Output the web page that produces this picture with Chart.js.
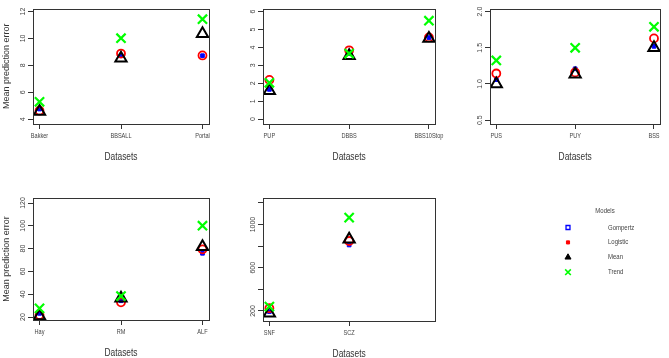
<!DOCTYPE html>
<html>
<head>
<meta charset="utf-8">
<script src="https://cdn.jsdelivr.net/npm/chart.js@4.4.1/dist/chart.umd.min.js"></script>
<style>
  html, body { margin: 0; padding: 0; background: #fff; overflow: hidden; }
  #wrap { position: relative; width: 669px; height: 358px; }
  canvas { position: absolute; }
</style>
</head>
<body>
<div id="wrap">
  <canvas id="p1"></canvas>
  <canvas id="p2"></canvas>
  <canvas id="p3"></canvas>
  <canvas id="p4"></canvas>
  <canvas id="p5"></canvas>
  <canvas id="legend"></canvas>
</div>
<script>
// model names (legend order)
const models = ["Gompertz", "Logistic", "Mean", "Trend"];

// panel 1
const cats1 = ["Bakker", "BBSALL", "Portal"];
const gompertz1 = [4.76, 8.72, 8.72];
const logistic1 = [4.64, 8.88, 8.74];
const mean1 = [4.57, 8.53, 10.35];
const trend1 = [5.30, 10.02, 11.43];
const yTicks1 = [4, 6, 8, 10, 12];

// panel 2
const cats2 = ["PUP", "DBBS", "BBS10Stop"];
const gompertz2 = [1.66, 3.66, 4.55];
const logistic2 = [2.19, 3.84, 4.56];
const mean2 = [1.58, 3.54, 4.50];
const trend2 = [2.03, 3.66, 5.49];
const yTicks2 = [0, 1, 2, 3, 4, 5, 6];

// panel 3
const cats3 = ["PUS", "PUY", "BSS"];
const gompertz3 = [1.06, 1.21, 1.52];
const logistic3 = [1.145, 1.16, 1.63];
const mean3 = [1.0, 1.135, 1.50];
const trend3 = [1.325, 1.50, 1.79];
const yTicks3 = [0.5, 1.0, 1.5, 2.0];

// panel 4
const cats4 = ["Hay", "RM", "ALF"];
const gompertz4 = [23.2, 34.3, 75.9];
const logistic4 = [21.8, 32.9, 79.4];
const mean4 = [20.9, 36.4, 81.7];
const trend4 = [27.6, 38.4, 100.1];
const yTicks4 = [20, 40, 60, 80, 100, 120];

// panel 5
const cats5 = ["SNF", "SCZ"];
const gompertz5 = [194, 811];
const logistic5 = [225, 848];
const mean5 = [179, 864];
const trend5 = [240, 1064];
const yTicks5 = [200, 400, 600, 800, 1000, 1200];
const yLabels5 = [200, 600, 1000];

const styles = {
  Gompertz: { pointStyle: "rect", radius: 2.6, borderColor: "#0000ff", backgroundColor: "#0000ff", borderWidth: 1, order: 4 },
  Logistic: { pointStyle: "circle", radius: 4, borderColor: "#ff0000", backgroundColor: "rgba(0,0,0,0)", borderWidth: 1.8, order: 3 },
  Mean: { pointStyle: "triangle", radius: 6.5, borderColor: "#000000", backgroundColor: "rgba(0,0,0,0)", borderWidth: 2, order: 2 },
  Trend: { pointStyle: "crossRot", radius: 6.5, borderColor: "#00ff00", backgroundColor: "#00ff00", borderWidth: 2.2, order: 1 }
};

const axisColor = "#333";
const textColor = "#444";

// squeezed text, the source image is a bit narrower than tall
function squeezed(ctx, text, x, y, font, sx) {
  ctx.save();
  ctx.font = font;
  ctx.translate(x, y);
  ctx.scale(sx, 1);
  ctx.fillText(text, 0, 0);
  ctx.restore();
}

// frame box, rotated y tick labels, x labels + title (R style)
const framePlugin = {
  id: "frame",
  afterDraw(chart, args, opts) {
    const { ctx, chartArea: a } = chart;
    const ys = chart.scales.y;
    const xs = chart.scales.x;
    ctx.save();
    ctx.strokeStyle = axisColor;
    ctx.lineWidth = 1;
    ctx.strokeRect(Math.round(a.left) + 0.5, Math.round(a.top) + 0.5,
      Math.round(a.right - a.left), Math.round(a.bottom - a.top));
    ctx.fillStyle = textColor;
    ctx.textAlign = "center";
    ctx.textBaseline = "middle";
    ctx.font = '7px "Liberation Sans"';
    opts.labels.forEach(v => {
      const y = ys.getPixelForValue(v);
      ctx.save();
      ctx.translate(a.left - 10, y);
      ctx.rotate(-Math.PI / 2);
      ctx.fillText(opts.fmt(v), 0, 0);
      ctx.restore();
    });
    opts.cats.forEach((c, i) => {
      squeezed(ctx, c, xs.getPixelForValue(i + 1), a.bottom + 12, '7px "Liberation Sans"', 0.8);
    });
    ctx.fillStyle = "#333";
    squeezed(ctx, "Datasets", (a.left + a.right) / 2, a.bottom + 33, '10.5px "Liberation Sans"', 0.8);
    ctx.restore();
  }
};

function makePanel(id, box, cats, series, yTicks, yLabels, yMin, yMax, fmt, showTitle) {
  const cv = document.getElementById(id);
  cv.width = box.w; cv.height = box.h;
  cv.style.left = box.x + "px"; cv.style.top = box.y + "px";
  cv.style.width = box.w + "px"; cv.style.height = box.h + "px";

  const datasets = models.map((m, k) => Object.assign({
    label: m,
    data: series[k].map((v, i) => ({ x: i + 1, y: v })),
    showLine: false
  }, styles[m]));

  return new Chart(cv.getContext("2d"), {
    type: "scatter",
    data: { datasets: datasets },
    options: {
      responsive: false,
      animation: false,
      events: [],
      layout: { padding: { top: box.padTop, right: box.padRight, left: 0, bottom: 0 } },
      plugins: {
        legend: { display: false },
        tooltip: { enabled: false },
        frame: { labels: yLabels, fmt: fmt, cats: cats }
      },
      scales: {
        x: {
          type: "linear",
          min: 0.92,
          max: 3.08,
          afterBuildTicks: s => { s.ticks = cats.map((c, i) => ({ value: i + 1 })); },
          afterFit: s => { s.height = 40; },
          ticks: { display: false },
          grid: { drawOnChartArea: false, drawTicks: true, tickLength: 5, color: axisColor },
          border: { display: false }
        },
        y: {
          type: "linear",
          min: yMin,
          max: yMax,
          afterBuildTicks: s => { s.ticks = yTicks.map(v => ({ value: v })); },
          afterFit: s => { s.width = box.yw; },
          ticks: { display: false },
          grid: { drawOnChartArea: false, drawTicks: true, tickLength: 5, color: axisColor },
          border: { display: false },
          title: {
            display: showTitle, text: "Mean prediction error", color: "#333",
            padding: { top: 1, bottom: 0 },
            font: { family: '"Liberation Sans"', size: 9 }
          }
        }
      }
    },
    plugins: [framePlugin]
  });
}

const num = v => String(v);
const one = v => v.toFixed(1);

makePanel("p1", { x: 0, y: 0, w: 222, h: 164, yw: 33, padTop: 3, padRight: 13 },
  cats1, [gompertz1, logistic1, mean1, trend1], yTicks1, yTicks1, 3.65, 12.21, num, true);
makePanel("p2", { x: 222, y: 0, w: 222, h: 164, yw: 41, padTop: 3, padRight: 6 },
  cats2, [gompertz2, logistic2, mean2, trend2], yTicks2, yTicks2, -0.27, 6.16, num, false);
makePanel("p3", { x: 446, y: 0, w: 223, h: 164, yw: 44, padTop: 3, padRight: 2 },
  cats3, [gompertz3, logistic3, mean3, trend3], yTicks3, yTicks3, 0.447, 2.04, one, false);
makePanel("p4", { x: 0, y: 180, w: 222, h: 180, yw: 33, padTop: 18, padRight: 13 },
  cats4, [gompertz4, logistic4, mean4, trend4], yTicks4, yTicks4, 17.4, 124.4, num, true);
makePanel("p5", { x: 222, y: 180, w: 222, h: 181, yw: 41, padTop: 18, padRight: 6 },
  cats5, [gompertz5, logistic5, mean5, trend5], yTicks5, yLabels5, 107, 1246, num, false);

// legend panel
(function () {
  const cv = document.getElementById("legend");
  cv.width = 223; cv.height = 178;
  cv.style.left = "446px"; cv.style.top = "180px";
  cv.style.width = "223px"; cv.style.height = "178px";
  const ctx = cv.getContext("2d");
  const legendMarks = {
    Gompertz: { pointStyle: "rect", radius: 2.8, stroke: "#0000ff", fill: null, lw: 1.3 },
    Logistic: { pointStyle: "rect", radius: 2.2, stroke: "#ff0000", fill: "#ff0000", lw: 1 },
    Mean: { pointStyle: "triangle", radius: 3.5, stroke: "#000", fill: "#000", lw: 1 },
    Trend: { pointStyle: "crossRot", radius: 4, stroke: "#00ff00", fill: null, lw: 1.6 }
  };
  ctx.fillStyle = textColor;
  ctx.textBaseline = "middle";
  ctx.textAlign = "center";
  squeezed(ctx, "Models", 159, 31, '7.5px "Liberation Sans"', 0.8);
  ctx.textAlign = "left";
  models.forEach((m, i) => {
    const y = 47.5 + i * 14.9;
    const s = legendMarks[m];
    ctx.save();
    ctx.strokeStyle = s.stroke;
    ctx.fillStyle = s.fill || "rgba(0,0,0,0)";
    ctx.lineWidth = s.lw;
    Chart.helpers.drawPoint(ctx, { pointStyle: s.pointStyle, radius: s.radius, rotation: 0, borderWidth: s.lw }, 122, y);
    ctx.restore();
    ctx.fillStyle = textColor;
    squeezed(ctx, m, 162, y, '7.5px "Liberation Sans"', 0.8);
  });
})();
</script>
</body>
</html>
